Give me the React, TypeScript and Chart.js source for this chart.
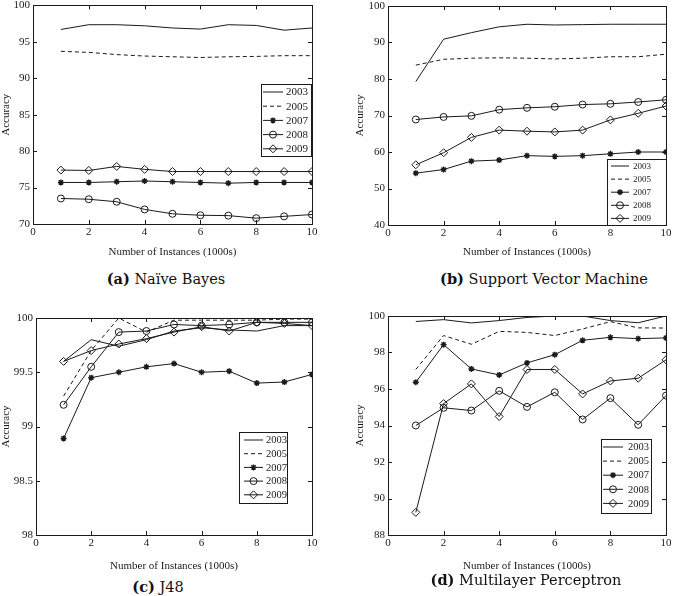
import { useEffect, useRef } from "react"
import { Chart, registerables } from "chart.js"

Chart.register(...registerables)

const instances = [1, 2, 3, 4, 5, 6, 7, 8, 9, 10]
const years = ["2003", "2005", "2007", "2008", "2009"]

// (a) Naive Bayes
const nb2003 = [96.7, 97.35, 97.35, 97.2, 96.9, 96.75, 97.35, 97.25, 96.6, 96.9]
const nb2005 = [93.7, 93.55, 93.25, 93.05, 92.95, 92.85, 92.95, 93.0, 93.1, 93.1]
const nb2007 = [75.7, 75.7, 75.8, 75.9, 75.8, 75.7, 75.6, 75.7, 75.7, 75.7]
const nb2008 = [73.5, 73.4, 73.05, 72.0, 71.4, 71.2, 71.15, 70.8, 71.05, 71.3]
const nb2009 = [77.4, 77.35, 77.9, 77.5, 77.2, 77.2, 77.2, 77.2, 77.2, 77.2]

// (b) Support Vector Machine
const svm2003 = [79.3, 90.9, 92.7, 94.3, 95.0, 94.8, 94.9, 95.0, 95.0, 95.0]
const svm2005 = [83.8, 85.4, 85.7, 85.8, 85.7, 85.5, 85.7, 86.1, 86.1, 86.8]
const svm2007 = [54.2, 55.2, 57.5, 57.8, 59.0, 58.8, 59.0, 59.5, 60.0, 60.0]
const svm2008 = [68.9, 69.6, 69.9, 71.6, 72.1, 72.4, 73.0, 73.2, 73.7, 74.3]
const svm2009 = [56.5, 59.8, 64.0, 66.0, 65.7, 65.5, 66.0, 68.8, 70.6, 72.6]

// (c) J48
const j48_2003 = [99.6, 99.8, 99.74, 99.8, 99.88, 99.91, 99.89, 99.88, 99.93, 99.93]
const j48_2005 = [99.28, 99.7, 100, 99.87, 99.98, 99.98, 99.98, 99.98, 99.99, 99.99]
const j48_2007 = [98.89, 99.45, 99.5, 99.55, 99.58, 99.5, 99.51, 99.4, 99.41, 99.48]
const j48_2008 = [99.2, 99.55, 99.87, 99.88, 99.94, 99.93, 99.94, 99.96, 99.96, 99.96]
const j48_2009 = [99.6, 99.7, 99.76, 99.81, 99.87, 99.92, 99.88, 99.96, 99.95, 99.93]

// (d) Multilayer Perceptron
const mlp2003 = [99.7, 99.8, 99.62, 99.75, 99.92, 100, 100, 99.75, 99.63, 100]
const mlp2005 = [97.07, 98.93, 98.45, 99.16, 99.1, 98.93, 99.29, 99.69, 99.35, 99.34]
const mlp2007 = [96.37, 98.43, 97.1, 96.77, 97.43, 97.88, 98.67, 98.83, 98.76, 98.8]
const mlp2008 = [94.0, 94.97, 94.82, 95.9, 95.02, 95.82, 94.33, 95.5, 94.04, 95.64]
const mlp2009 = [89.24, 95.2, 96.28, 94.49, 97.07, 97.07, 95.73, 96.44, 96.59, 97.6]

const ink = "#1a1a1a"
const serif = "'Liberation Serif', 'Times New Roman', serif"

// line style per year: dash + marker
const seriesStyle = [
  { dash: [] as number[], marker: "none", r: 0 },
  { dash: [4, 3], marker: "none", r: 0 },
  { dash: [] as number[], marker: "star", r: 3 },
  { dash: [] as number[], marker: "circle", r: 3.5 },
  { dash: [] as number[], marker: "rectRot", r: 4 },
]

function drawMarker(ctx: CanvasRenderingContext2D, style: string, x: number, y: number, r: number) {
  if (style === "none") return
  ctx.beginPath()
  if (style === "circle") {
    ctx.arc(x, y, r, 0, Math.PI * 2)
  } else if (style === "rectRot") {
    ctx.moveTo(x, y - r)
    ctx.lineTo(x + r, y)
    ctx.lineTo(x, y + r)
    ctx.lineTo(x - r, y)
    ctx.closePath()
  } else if (style === "star") {
    for (let a = 0; a < 4; a++) {
      const t = (a * Math.PI) / 4
      ctx.moveTo(x + r * Math.cos(t), y + r * Math.sin(t))
      ctx.lineTo(x - r * Math.cos(t), y - r * Math.sin(t))
    }
  }
  ctx.stroke()
}

// matlab style box with inward ticks + legend inside the axes
const matlabPlugin = {
  id: "matlab",
  beforeDatasetsDraw(chart: any) {
    const { ctx, chartArea, scales } = chart
    const { left, top, right, bottom } = chartArea
    ctx.save()
    ctx.strokeStyle = ink
    ctx.lineWidth = 1
    ctx.setLineDash([])
    ctx.strokeRect(Math.round(left) + 0.5, Math.round(top) + 0.5, Math.round(right - left), Math.round(bottom - top))
    const tl = 4
    ctx.beginPath()
    scales.x.ticks.forEach((t: any) => {
      const px = Math.round(scales.x.getPixelForValue(t.value)) + 0.5
      ctx.moveTo(px, bottom)
      ctx.lineTo(px, bottom - tl)
      ctx.moveTo(px, top)
      ctx.lineTo(px, top + tl)
    })
    scales.y.ticks.forEach((t: any) => {
      const py = Math.round(scales.y.getPixelForValue(t.value)) + 0.5
      ctx.moveTo(left, py)
      ctx.lineTo(left + tl, py)
      ctx.moveTo(right, py)
      ctx.lineTo(right - tl, py)
    })
    ctx.stroke()
    ctx.restore()
  },
  afterDraw(chart: any, _args: any, opts: any) {
    const { ctx } = chart
    const b = opts.box
    if (!b) return
    ctx.save()
    ctx.fillStyle = "#fff"
    ctx.fillRect(b.x, b.y, b.w, b.h)
    ctx.strokeStyle = ink
    ctx.lineWidth = 1
    ctx.strokeRect(b.x + 0.5, b.y + 0.5, b.w, b.h)
    ctx.font = `${b.font}px ${serif}`
    ctx.textBaseline = "middle"
    ctx.textAlign = "left"
    chart.data.datasets.forEach((ds: any, i: number) => {
      const st = seriesStyle[i]
      const y = b.y + b.first + i * b.row
      ctx.strokeStyle = ink
      ctx.lineWidth = 1
      ctx.setLineDash(st.dash)
      ctx.beginPath()
      ctx.moveTo(b.x + b.s1, y)
      ctx.lineTo(b.x + b.s2, y)
      ctx.stroke()
      ctx.setLineDash([])
      ctx.lineWidth = st.marker === "star" ? 1.4 : 1
      drawMarker(ctx, st.marker, b.x + (b.s1 + b.s2) / 2, y, st.r)
      ctx.fillStyle = ink
      ctx.fillText(ds.label, b.x + b.tx, y + 0.5)
    })
    ctx.restore()
  },
}

interface PanelProps {
  series: number[][]
  yMin: number
  yMax: number
  yStep: number
  pos: { left: number; top: number; w: number; h: number }
  area: { l: number; t: number; r: number }
  xAxisH: number
  yTitlePad: number
  legend: { x: number; y: number; w: number; h: number; first: number; row: number; s1: number; s2: number; tx: number; font: number }
}

function Panel({ series, yMin, yMax, yStep, pos, area, xAxisH, yTitlePad, legend }: PanelProps) {
  const chartRef = useRef<HTMLCanvasElement>(null)
  const chartInstance = useRef<Chart | null>(null)

  useEffect(() => {
    if (!chartRef.current) return
    if (chartInstance.current) chartInstance.current.destroy()

    chartInstance.current = new Chart(chartRef.current, {
      type: "line",
      data: {
        labels: instances,
        datasets: series.map((vals, i) => {
          const st = seriesStyle[i]
          return {
            label: years[i],
            data: vals.map((v, k) => ({ x: instances[k], y: v })),
            borderColor: ink,
            borderWidth: 1,
            borderDash: st.dash,
            tension: 0,
            fill: false,
            pointStyle: st.marker === "none" ? false : st.marker,
            pointRadius: st.r,
            pointBorderColor: ink,
            pointBackgroundColor: "rgba(0,0,0,0)",
            pointBorderWidth: st.marker === "star" ? 1.4 : 1,
          } as any
        }),
      },
      options: {
        animation: false,
        responsive: true,
        maintainAspectRatio: false,
        layout: { padding: { left: 0, top: area.t, right: pos.w - area.r, bottom: 0 } },
        scales: {
          x: {
            type: "linear",
            min: 0,
            max: 10,
            grid: { display: false, drawTicks: false },
            border: { display: false },
            ticks: { stepSize: 2, padding: 2, color: ink, font: { family: serif, size: 11 }, autoSkip: false, maxRotation: 0 },
            title: { display: true, text: "Number of Instances (1000s)", color: ink, font: { family: serif, size: 11 }, padding: { top: 0, bottom: 3 } },
            afterFit: (s: any) => {
              s.height = xAxisH
              s.paddingLeft = 0
              s.paddingRight = 0
            },
          },
          y: {
            type: "linear",
            min: yMin,
            max: yMax,
            grid: { display: false, drawTicks: false },
            border: { display: false },
            ticks: { stepSize: yStep, padding: 3, color: ink, font: { family: serif, size: 11 }, autoSkip: false, callback: (v: any) => String(v) },
            title: { display: true, text: "Accuracy", color: ink, font: { family: serif, size: 11 }, padding: { top: yTitlePad, bottom: 0 } },
            afterFit: (s: any) => {
              s.width = area.l
              s.paddingTop = 0
              s.paddingBottom = 0
            },
          },
        },
        plugins: {
          legend: { display: false },
          tooltip: { enabled: false },
          matlab: { box: legend },
        } as any,
      },
      plugins: [matlabPlugin],
    })

    return () => {
      if (chartInstance.current) {
        chartInstance.current.destroy()
        chartInstance.current = null
      }
    }
  }, [series, yMin, yMax, yStep])

  return (
    <div style={{ position: "absolute", left: pos.left, top: pos.top, width: pos.w, height: pos.h }}>
      <canvas ref={chartRef} />
    </div>
  )
}

const captionStyle = {
  position: "absolute" as const,
  fontFamily: "'DejaVu Serif', serif",
  fontSize: 14.5,
  lineHeight: "18px",
  color: "#111",
  whiteSpace: "nowrap" as const,
  transform: "translate(-50%, -50%)",
}

export default function App() {
  return (
    <div style={{ position: "absolute", left: 0, top: 0, width: 673, height: 596, background: "#fff", overflow: "hidden" }}>
      <Panel
        series={[nb2003, nb2005, nb2007, nb2008, nb2009]}
        yMin={70}
        yMax={100}
        yStep={5}
        pos={{ left: 0, top: 0, w: 336, h: 262 }}
        area={{ l: 33, t: 5, r: 312 }}
        xAxisH={38}
        yTitlePad={0}
        legend={{ x: 261, y: 84, w: 50, h: 72, first: 8, row: 14.2, s1: 2, s2: 22, tx: 25, font: 11 }}
      />
      <Panel
        series={[svm2003, svm2005, svm2007, svm2008, svm2009]}
        yMin={40}
        yMax={100}
        yStep={10}
        pos={{ left: 336, top: 0, w: 337, h: 262 }}
        area={{ l: 52, t: 6, r: 330 }}
        xAxisH={37}
        yTitlePad={18}
        legend={{ x: 271, y: 159, w: 59, h: 66, first: 7, row: 13.1, s1: 4, s2: 22, tx: 26, font: 9 }}
      />
      <Panel
        series={[j48_2003, j48_2005, j48_2007, j48_2008, j48_2009]}
        yMin={98}
        yMax={100}
        yStep={0.5}
        pos={{ left: 0, top: 300, w: 336, h: 276 }}
        area={{ l: 36, t: 18, r: 312 }}
        xAxisH={41}
        yTitlePad={0}
        legend={{ x: 239, y: 132, w: 48, h: 71, first: 8, row: 13.7, s1: 5, s2: 24, tx: 27, font: 10.5 }}
      />
      <Panel
        series={[mlp2003, mlp2005, mlp2007, mlp2008, mlp2009]}
        yMin={88}
        yMax={100}
        yStep={2}
        pos={{ left: 336, top: 300, w: 337, h: 276 }}
        area={{ l: 52, t: 16, r: 330 }}
        xAxisH={41}
        yTitlePad={18}
        legend={{ x: 265, y: 139, w: 50, h: 74, first: 8, row: 14.1, s1: 2, s2: 22, tx: 27, font: 10.5 }}
      />
      <div style={{ ...captionStyle, left: 166, top: 279 }}>
        <b>(a)</b> Naïve Bayes
      </div>
      <div style={{ ...captionStyle, left: 544, top: 279 }}>
        <b>(b)</b> Support Vector Machine
      </div>
      <div style={{ ...captionStyle, left: 158, top: 587 }}>
        <b>(c)</b> J48
      </div>
      <div style={{ ...captionStyle, left: 526, top: 580 }}>
        <b>(d)</b> Multilayer Perceptron
      </div>
    </div>
  )
}
